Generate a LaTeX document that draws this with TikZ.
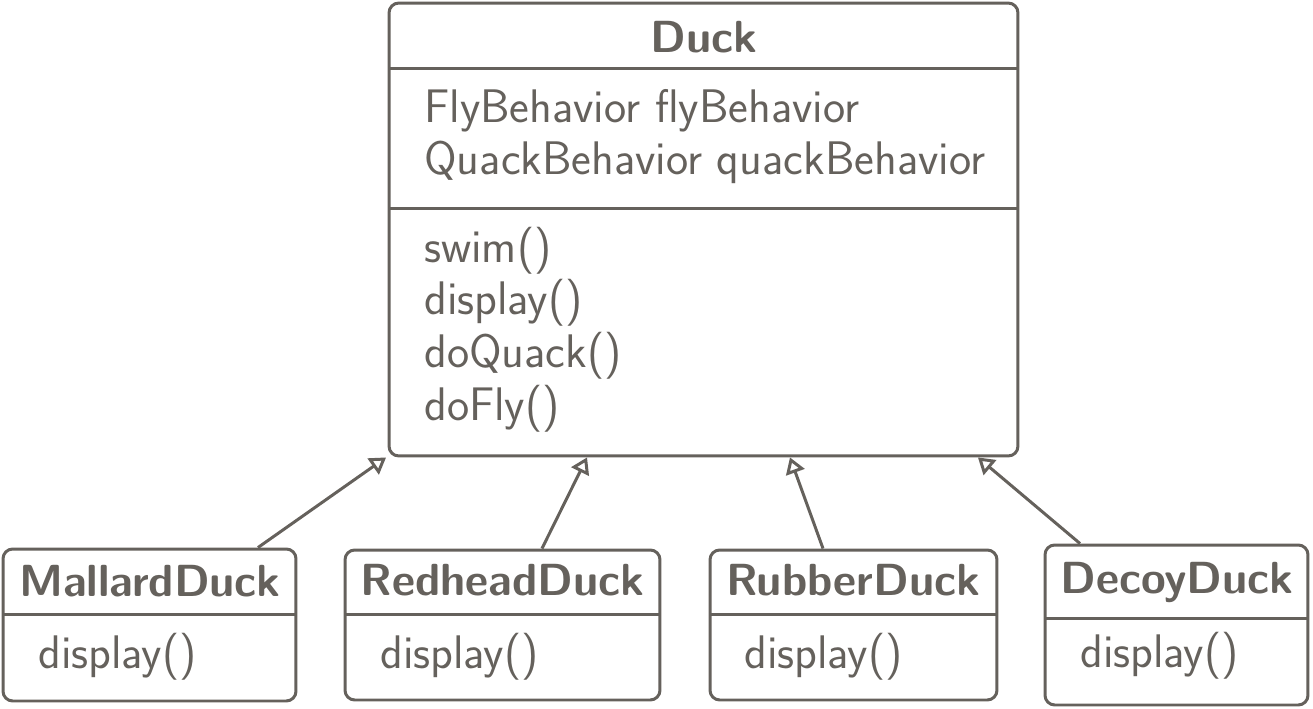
\documentclass[tikz,border=0pt]{standalone}
\usepackage{fontspec}
\usepackage{tikz}
\usetikzlibrary{arrows.meta,positioning}
\definecolor{umlgray}{HTML}{65615C}
\renewcommand{\familydefault}{\sfdefault}
\newcommand{\umlfont}{\fontsize{26.8}{32}\selectfont}
\newcommand{\umlboldfont}{\fontsize{25.6}{31}\selectfont\bfseries}
\tikzset{
  classbox/.style={
    rectangle, rounded corners=5.5pt, draw=umlgray, line width=1.7pt,
    inner sep=0pt
  },
  classname/.style={anchor=base, font=\umlboldfont, text=umlgray, inner sep=0pt},
  member/.style={anchor=base west, font=\umlfont, text=umlgray, inner sep=0pt},
  divider/.style={draw=umlgray, line width=1.7pt},
  inherit/.style={-{Triangle[open,length=9pt,width=11pt]}, line width=1.7pt, draw=umlgray},
}

\begin{document}
\begin{tikzpicture}[x=0.02cm, y=-0.02cm]
  \useasboundingbox (0,0) rectangle (1313,708);

  % superclass
  \node[classbox, minimum width=12.58cm, minimum height=9.06cm] (duck) at (703.5,229.5) {};
  \node[classname] (duckname) at (704,52) {Duck};
  \draw[divider] (389,68) -- (1018,68);
  \draw[divider] (389,208) -- (1018,208);
  \node[member] (fly) at (424,122) {FlyBehavior flyBehavior};
  \node[member] (quack) at (424,174) {QuackBehavior quackBehavior};
  \foreach \m [count=\i] in {swim(),display(),doQuack(),doFly()}
    \node[member] (m\i) at (424,{262+52.7*(\i-1)}) {\m};

  % subclasses
  \node[classbox, minimum width=5.86cm, minimum height=3.04cm] (mallard) at (149.5,625) {};
  \node[classname] (mallardname) at (150,596) {MallardDuck};
  \draw[divider] (3,614) -- (296,614);
  \node[member] (mallarddisp) at (38,668) {display()};

  \node[classbox, minimum width=6.3cm, minimum height=3.0cm] (redhead) at (502.5,625) {};
  \node[classname] (redheadname) at (502.5,595) {RedheadDuck};
  \draw[divider] (345,614) -- (660,614);
  \node[member] (redheaddisp) at (380,668) {display()};

  \node[classbox, minimum width=5.74cm, minimum height=3.0cm] (rubber) at (853.5,625) {};
  \node[classname] (rubbername) at (853.5,595) {RubberDuck};
  \draw[divider] (710,614) -- (997,614);
  \node[member] (rubberdisp) at (744,668) {display()};

  \node[classbox, minimum width=5.26cm, minimum height=3.2cm] (decoy) at (1176.5,625) {};
  \node[classname] (decoyname) at (1177,593) {DecoyDuck};
  \draw[divider] (1045,618) -- (1308,618);
  \node[member] (decoydisp) at (1080,667) {display()};

  % generalisation arrows
  \foreach \sub/\from/\to in {mallard/2.17cm/-6.35cm, redhead/0.79cm/-2.33cm,
                             rubber/-0.61cm/1.73cm, decoy/-1.93cm/5.49cm}
    \draw[inherit] ([xshift=\from]\sub.north) -- ([xshift=\to]duck.south);
\end{tikzpicture}
\end{document}
